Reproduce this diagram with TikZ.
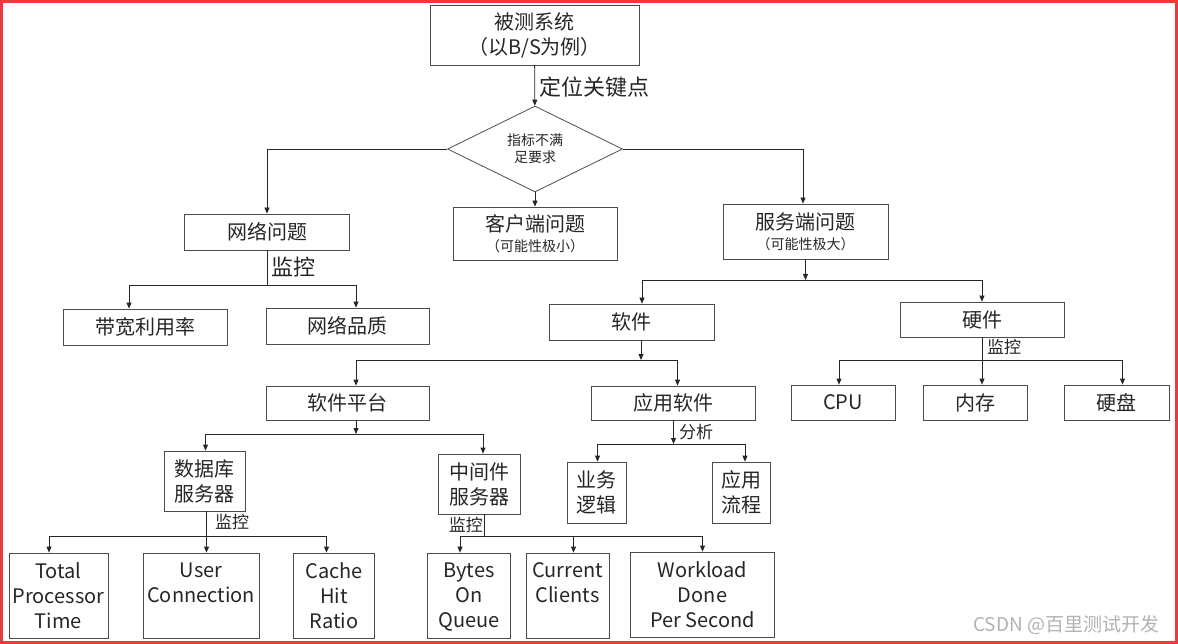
\documentclass[tikz,border=0pt]{standalone}
\usepackage{fontspec}
\setmainfont{Noto Sans CJK SC}
\usepackage{tikz}
\usetikzlibrary{arrows.meta,shapes.geometric}
\definecolor{framered}{RGB}{238,58,58}
\newcommand{\hint}[1]{{\fontsize{14}{16}\selectfont #1}}

\begin{document}
\begin{tikzpicture}[x=1pt,y=-1pt,
    box/.style={draw=black!70, line width=0.8pt, inner sep=0pt, align=center, text=black!85, font=\fontsize{20}{25}\selectfont},
    dnode/.style={draw=black!70, line width=0.8pt, diamond, inner sep=0pt, align=center, text=black!85, font=\fontsize{14}{17}\selectfont},
    link/.style={line width=0.8pt, black!85},
    arr/.style={link, -{Triangle[length=6pt,width=5pt]}},
    lbig/.style={text=black!85, inner sep=0pt, font=\fontsize{22}{26}\selectfont},
    lsmall/.style={text=black!85, inner sep=0pt, font=\fontsize{17}{20}\selectfont}]

    \useasboundingbox (0,0) rectangle (1178,644);
    \draw[framered, line width=3pt] (1.5,1.5) rectangle (1176.5,642.5);

    % top levels
    \node[box, minimum width=209pt, minimum height=60pt] (sys) at (534.5,35) {被测系统\\（以B/S为例）};
    \node[dnode, minimum width=175pt, minimum height=73pt] (dec) at (535,149) {指标不满\\足要求};
    \node[box, minimum width=165pt, minimum height=36pt] (net) at (267,232) {网络问题};
    \node[box, minimum width=164pt, minimum height=53pt] (cli) at (535,233.5) {客户端问题\\[-5pt]\hint{（可能性极小）}};
    \node[box, minimum width=165pt, minimum height=55pt] (srv) at (805.5,231.5) {服务端问题\\[-5pt]\hint{（可能性极大）}};

    \node[box, minimum width=164pt, minimum height=36pt] (bw) at (145,327) {带宽利用率};
    \node[box, minimum width=163pt, minimum height=36pt] (nq) at (347.5,326) {网络品质};
    \node[box, minimum width=165pt, minimum height=36pt] (sw) at (631.5,322) {软件};
    \node[box, minimum width=164pt, minimum height=35pt] (hw) at (982,319.5) {硬件};

    \node[box, minimum width=163pt, minimum height=34pt] (plat) at (347.5,403) {软件平台};
    \node[box, minimum width=164pt, minimum height=34pt] (app) at (673.5,403) {应用软件};
    \node[box, minimum width=104pt, minimum height=35pt] (cpu) at (843,402.5) {CPU};
    \node[box, minimum width=104pt, minimum height=35pt] (mem) at (975,402.5) {内存};
    \node[box, minimum width=105pt, minimum height=35pt] (disk) at (1116.5,402.5) {硬盘};

    \node[box, minimum width=81pt, minimum height=60pt] (db) at (204.5,481) {数据库\\服务器};
    \node[box, minimum width=82pt, minimum height=60pt] (mid) at (479.5,484) {中间件\\服务器};
    \node[box, minimum width=59pt, minimum height=61pt] (biz) at (596.5,492.5) {业务\\逻辑};
    \node[box, minimum width=58pt, minimum height=61pt] (flow) at (741,492.5) {应用\\流程};

    % counters
    \node[box, minimum width=99pt, minimum height=85pt] (tpt) at (58.5,595.5) {Total\\Processor\\Time};
    \node[box, minimum width=116pt, minimum height=85pt] (uc) at (201,595.5) {User\\Connection\\\phantom{Time}};
    \node[box, minimum width=81.5pt, minimum height=85pt] (chr) at (334,595.5) {Cache\\Hit\\Ratio};
    \node[box, minimum width=83pt, minimum height=85pt] (boq) at (469,595.5) {Bytes\\On\\\raisebox{0pt}[\height][0pt]{Queue}};
    \node[box, minimum width=83pt, minimum height=85pt] (cc) at (567.5,595.5) {Current\\Clients\\\phantom{Time}};
    \node[box, minimum width=144pt, minimum height=85pt] (wl) at (702.5,594.5) {Workload\\Done\\Per Second};

    % labels
    \node[lbig, anchor=west] (locate) at (539,87) {定位关键点};
    \node[lbig, anchor=west] (netmon) at (271,267) {监控};
    \node[lsmall, anchor=west] (hwmon) at (987,347) {监控};
    \node[lsmall, anchor=west] (appan) at (679,432) {分析};
    \node[lsmall, anchor=west] (dbmon) at (215,522) {监控};
    \node[lsmall, anchor=east] (midmon) at (483,525) {监控};
    \node[anchor=west, text=black!30, inner sep=0pt, font=\fontsize{19}{22}\selectfont] (mark) at (973,625) {CSDN @百里测试开发};

    % bus points
    \coordinate (netbus) at (267,285);
    \coordinate (srvbus) at (805.5,280);
    \coordinate (swbus) at (641,360);
    \coordinate (hwbus) at (982,360);
    \coordinate (platbus) at (356,434);
    \coordinate (appbus) at (673.5,444);
    \coordinate (dbbus) at (206.5,536);
    \coordinate (midbus) at (484,536);

    \draw[arr] (sys) -- (dec);
    \draw[arr] (dec.west) -| (net);
    \draw[arr] (dec) -- (cli);
    \draw[arr] (dec.east) -| ([xshift=-2.5pt]srv.north);

    \draw[link] (net) -- (netbus);
    \draw[arr] (netbus) -| ([xshift=-16pt]bw.north);
    \draw[arr] (netbus) -| ([xshift=8.5pt]nq.north);

    \draw[arr] (srv) -- (srvbus);
    \draw[arr] (srvbus) -| ([xshift=10.5pt]sw.north);
    \draw[arr] (srvbus) -| (hw);

    \draw[arr] ([xshift=9.5pt]sw.south) -- (swbus);
    \draw[arr] (swbus) -| ([xshift=8.5pt]plat.north);
    \draw[arr] (swbus) -| ([xshift=4pt]app.north);

    \draw[arr] (hw) -- ([xshift=7pt]mem.north);
    \draw[arr] (hwbus) -| ([xshift=-4pt]cpu.north);
    \draw[arr] (hwbus) -| ([xshift=6pt]disk.north);

    \draw[arr] ([xshift=8.5pt]plat.south) -- (platbus);
    \draw[arr] (platbus) -| ([xshift=1pt]db.north);
    \draw[arr] (platbus) -| ([xshift=3.5pt]mid.north);

    \draw[arr] (app) -- (appbus);
    \draw[arr] (appbus) -| ([xshift=1pt]biz.north);
    \draw[arr] (appbus) -| ([xshift=4pt]flow.north);

    \draw[arr] ([xshift=2pt]db.south) -- ([xshift=5.5pt]uc.north);
    \draw[arr] (dbbus) -| ([xshift=-9.5pt]tpt.north);
    \draw[arr] (dbbus) -| ([xshift=-7.5pt]chr.north);

    \draw[link] ([xshift=4.5pt]mid.south) -- (midbus);
    \draw[arr] (midbus) -| ([xshift=-9pt]boq.north);
    \draw[arr] (midbus) -| ([xshift=6pt]cc.north);
    \draw[arr] (midbus) -| (wl);
\end{tikzpicture}
\end{document}
